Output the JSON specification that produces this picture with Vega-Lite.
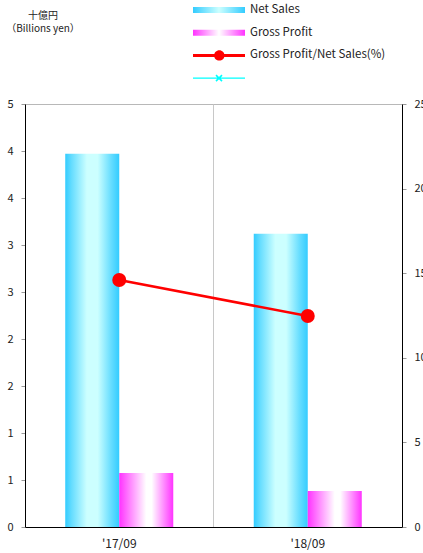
{
  "$schema": "https://vega.github.io/schema/vega-lite/v6.json",
  "width": 377,
  "height": 423,
  "autosize": {"type": "none"},
  "padding": {"left": 25, "top": 104, "right": 21, "bottom": 26},
  "background": "white",
  "config": {
    "font": "Noto Sans CJK JP",
    "view": {"stroke": "#b8b8b8", "strokeWidth": 1}
  },
  "datasets": {
    "bars": [
      {"period": "'17/09", "series": "Net Sales", "value": 3.97},
      {"period": "'17/09", "series": "Gross Profit", "value": 0.574},
      {"period": "'18/09", "series": "Net Sales", "value": 3.12},
      {"period": "'18/09", "series": "Gross Profit", "value": 0.383}
    ],
    "ratio": [
      {"period": "'17/09", "ratio": 14.6},
      {"period": "'18/09", "ratio": 12.47}
    ],
    "legend": [
      {"series": "Net Sales"},
      {"series": "Gross Profit"},
      {"series": "Gross Profit/Net Sales(%)"},
      {"series": "marker"}
    ]
  },
  "layer": [
    {
      "data": {"name": "bars"},
      "encoding": {
        "x": {
          "field": "period", "type": "nominal",
          "scale": {"paddingInner": 0, "paddingOuter": 0},
          "axis": {
            "title": null, "grid": true, "bandPosition": 0, "gridColor": "#c8c8c8",
            "domainColor": "#000000", "ticks": false, "labelAngle": 0,
            "labelFontSize": 12, "labelPadding": 11, "labelColor": "#222222"
          }
        },
        "xOffset": {
          "field": "series", "type": "nominal",
          "scale": {"domain": ["Net Sales", "Gross Profit"], "paddingInner": 0, "paddingOuter": 0.745}
        },
        "y": {
          "field": "value", "type": "quantitative",
          "scale": {"domain": [0, 4.5], "nice": false},
          "axis": {
            "title": ["十億円", "（Billions yen）"],
            "titleAngle": 0, "titleX": 17.5, "titleY": -89,
            "titleAlign": "center", "titleBaseline": "middle",
            "titleFontSize": 10, "titleFontWeight": "normal", "titleLineHeight": 13.5,
            "titleColor": "#222222",
            "values": [0, 0.5, 1, 1.5, 2, 2.5, 3, 3.5, 4, 4.5],
            "labelExpr": "format(round(datum.value), 'd')",
            "grid": false, "domainColor": "#000000", "tickColor": "#999999",
            "tickSize": 4, "labelPadding": 8, "labelFontSize": 11, "labelColor": "#222222"
          }
        }
      },
      "layer": [
        {
          "transform": [{"filter": "datum.series === 'Net Sales'"}],
          "mark": {
            "type": "bar",
            "color": {
              "gradient": "linear", "x1": 0, "y1": 0, "x2": 1, "y2": 0,
              "stops": [
                {"offset": 0, "color": "#33ccff"},
                {"offset": 0.12, "color": "#66ddff"},
                {"offset": 0.4, "color": "#ccffff"},
                {"offset": 0.6, "color": "#ccffff"},
                {"offset": 0.85, "color": "#66ddff"},
                {"offset": 1, "color": "#33ccff"}
              ]
            }
          }
        },
        {
          "transform": [{"filter": "datum.series === 'Gross Profit'"}],
          "mark": {
            "type": "bar",
            "color": {
              "gradient": "linear", "x1": 0, "y1": 0, "x2": 1, "y2": 0,
              "stops": [
                {"offset": 0, "color": "#ff33ff"},
                {"offset": 0.5, "color": "#ffffff"},
                {"offset": 0.6, "color": "#ffffff"},
                {"offset": 1, "color": "#ff33ff"}
              ]
            }
          }
        }
      ]
    },
    {
      "data": {"name": "ratio"},
      "encoding": {
        "x": {"field": "period", "type": "nominal"},
        "y": {
          "field": "ratio", "type": "quantitative",
          "scale": {"domain": [0, 25], "nice": false},
          "axis": {
            "orient": "right", "title": null,
            "values": [0, 5, 10, 15, 20, 25], "format": "d",
            "grid": false, "domainColor": "#000000", "tickColor": "#999999",
            "tickSize": 4, "labelPadding": 8, "labelFontSize": 11, "labelColor": "#222222"
          }
        }
      },
      "layer": [
        {"mark": {"type": "line", "color": "#ff0000", "strokeWidth": 2.5}},
        {"mark": {"type": "point", "shape": "circle", "filled": true, "color": "#ff0000", "size": 196, "opacity": 1}}
      ]
    },
    {
      "data": {"name": "legend"},
      "mark": {"type": "point", "filled": true, "size": 0, "strokeWidth": 0},
      "encoding": {
        "fill": {
          "field": "series", "type": "nominal",
          "scale": {
            "domain": ["Net Sales", "Gross Profit", "Gross Profit/Net Sales(%)", "marker"],
            "range": [
              {"expr": "{gradient: 'linear', x1: 0, y1: 0, x2: 1, y2: 0, stops: [{offset: 0, color: '#33ccff'}, {offset: 0.5, color: '#ccffff'}, {offset: 1, color: '#33ccff'}]}"},
              {"expr": "{gradient: 'linear', x1: 0, y1: 0, x2: 1, y2: 0, stops: [{offset: 0, color: '#ff33ff'}, {offset: 0.5, color: '#ffffff'}, {offset: 1, color: '#ff33ff'}]}"},
              "#ff0000",
              "#00ffff"
            ]
          }
        },
        "shape": {
          "field": "series", "type": "nominal",
          "scale": {
            "domain": ["Net Sales", "Gross Profit", "Gross Profit/Net Sales(%)", "marker"],
            "range": [
              "M-1,-0.375H5.5V0.375H-1Z",
              "M-1,-0.375H5.5V0.375H-1Z",
              "M-1,-0.19H5.5V0.19H-1Z M2.94,0A0.65,0.65 0 1 1 1.64,0A0.65,0.65 0 1 1 2.94,0Z",
              "M-1,-0.09H5.5V0.09H-1Z M1.945,-0.445L2.695,0.305L2.555,0.445L1.805,-0.305Z M2.695,-0.305L1.945,0.445L1.805,0.305L2.555,-0.445Z"
            ]
          },
          "legend": {
            "orient": "none", "legendX": 168, "legendY": -102, "padding": 0,
            "title": null, "symbolSize": 256, "symbolOpacity": 1, "symbolStrokeWidth": 0,
            "labelOffset": 41, "rowPadding": 8.7, "labelFontSize": 11.5, "labelColor": "#222222",
            "labelExpr": "datum.value === 'marker' ? '' : datum.label"
          }
        }
      }
    }
  ],
  "resolve": {"scale": {"y": "independent"}}
}
